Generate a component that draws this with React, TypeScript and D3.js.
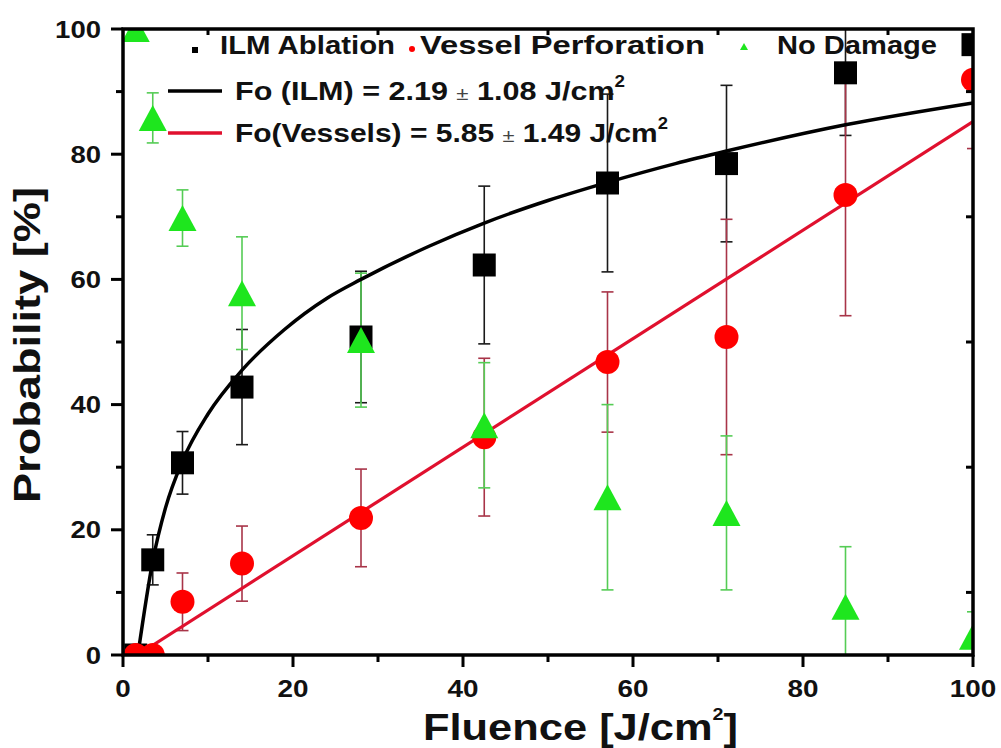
import React, { useEffect, useRef } from 'react'
import * as d3 from 'd3'

// fluence values (J/cm2) shared by all three series
const fluence = [1.5, 3.5, 7, 14, 28, 42.5, 57, 71, 85, 100]

// probabilities [%] and their error bars
const ilmAblation = [0, 15.2, 30.7, 42.8, 50.8, 62.3, 75.4, 78.5, 93, 97.5]
const ilmErr = [0, 4, 5, 9.2, 10.5, 12.6, 14.2, 12.5, 10, 5]
const vesselPerforation = [0, 0, 8.5, 14.6, 21.9, 34.8, 46.8, 50.8, 73.5, 91.9]
const vesselErr = [0, 0, 4.6, 6, 7.8, 12.6, 11.2, 18.8, 19.3, 11]
const noDamage = [100, 85.8, 69.8, 57.8, 50.3, 36.7, 25.2, 22.7, 7.7, 2.9]
const noDamageErr = [0, 4, 4.5, 9, 10.7, 10, 14.8, 12.3, 9.6, 4]

// fitted curves
const ilmFitX = [1.75, 3.5, 5, 7, 10, 14, 19, 24, 28, 36, 42.5, 50, 57, 65, 71, 85, 100]
const ilmFitY = [0, 15, 23.5, 31, 38.5, 45.5, 52, 57, 60, 65.3, 69, 72.6, 75.5, 78.5, 80.5, 84.7, 88.2]
const vesselFitX = [1.7, 100]
const vesselFitY = [0, 85.2]

const majorTicks = [0, 20, 40, 60, 80, 100]
const minorTicks = [10, 30, 50, 70, 90]

const FONT = '"Liberation Sans", Arial, Helvetica, sans-serif'

type Shape = 'square' | 'circle' | 'triangle'

const markerPath = (shape: Shape) => {
  if (shape === 'square') return d3.symbol(d3.symbolSquare, 23 * 23)()
  if (shape === 'circle') return d3.symbol(d3.symbolCircle, Math.PI * 12 * 12)()
  // triangle centred on its bounding box
  const w = 28
  const h = 26
  return `M0,${-h / 2}L${w / 2},${h / 2}L${-w / 2},${h / 2}Z`
}

export default function App() {
  const svgRef = useRef<SVGSVGElement>(null)

  useEffect(() => {
    if (!svgRef.current) return
    const svg = d3.select(svgRef.current)
    svg.selectAll('*').remove()

    const x = d3.scaleLinear().domain([0, 100]).range([123, 973])
    const y = d3.scaleLinear().domain([0, 100]).range([655, 29])

    svg
      .append('defs')
      .append('clipPath')
      .attr('id', 'plot-clip')
      .append('rect')
      .attr('x', x(0))
      .attr('y', y(100))
      .attr('width', x(100) - x(0))
      .attr('height', y(0) - y(100))

    const plot = svg.append('g').attr('clip-path', 'url(#plot-clip)')

    const series = [
      { values: ilmAblation, errors: ilmErr, fill: '#000000', bar: '#1a1a1a', shape: 'square' as Shape },
      { values: vesselPerforation, errors: vesselErr, fill: '#ff0000', bar: '#a83448', shape: 'circle' as Shape },
      { values: noDamage, errors: noDamageErr, fill: '#1ee61e', bar: '#55cc55', shape: 'triangle' as Shape },
    ]

    // error bars
    series.forEach(s => {
      s.values.forEach((v, i) => {
        const e = s.errors[i]
        if (!e) return
        const cx = x(fluence[i])
        const g = plot.append('g').attr('stroke', s.bar).attr('stroke-width', 1.6)
        g.append('line').attr('x1', cx).attr('x2', cx).attr('y1', y(v - e)).attr('y2', y(v + e))
        ;[v - e, v + e].forEach(c => {
          g.append('line')
            .attr('x1', cx - 6)
            .attr('x2', cx + 6)
            .attr('y1', y(c))
            .attr('y2', y(c))
        })
      })
    })

    // fit curves
    const line = d3
      .line<[number, number]>()
      .x(d => x(d[0]))
      .y(d => y(d[1]))
      .curve(d3.curveMonotoneX)

    plot
      .append('path')
      .attr('d', line(ilmFitX.map((f, i) => [f, ilmFitY[i]] as [number, number])) || '')
      .attr('fill', 'none')
      .attr('stroke', '#000')
      .attr('stroke-width', 3.5)

    plot
      .append('path')
      .attr('d', line(vesselFitX.map((f, i) => [f, vesselFitY[i]] as [number, number])) || '')
      .attr('fill', 'none')
      .attr('stroke', '#e0102e')
      .attr('stroke-width', 3.2)

    // markers
    series.forEach(s => {
      plot
        .append('g')
        .selectAll('path')
        .data(s.values)
        .enter()
        .append('path')
        .attr('d', markerPath(s.shape))
        .attr('transform', (v, i) => `translate(${x(fluence[i])},${y(v)})`)
        .attr('fill', s.fill)
    })

    // axes frame
    svg
      .append('rect')
      .attr('x', x(0))
      .attr('y', y(100))
      .attr('width', x(100) - x(0))
      .attr('height', y(0) - y(100))
      .attr('fill', 'none')
      .attr('stroke', '#000')
      .attr('stroke-width', 3.5)

    const ticks = svg.append('g').attr('stroke', '#000').attr('stroke-width', 3)
    majorTicks.forEach(t => {
      ticks.append('line').attr('x1', x(t)).attr('x2', x(t)).attr('y1', y(0)).attr('y2', y(0) + 12)
      ticks.append('line').attr('x1', x(0) - 12).attr('x2', x(0)).attr('y1', y(t)).attr('y2', y(t))
    })
    minorTicks.forEach(t => {
      ticks.append('line').attr('x1', x(t)).attr('x2', x(t)).attr('y1', y(0)).attr('y2', y(0) + 7)
      ticks.append('line').attr('x1', x(0) - 7).attr('x2', x(0)).attr('y1', y(t)).attr('y2', y(t))
      // top and right axes: inward minor ticks only
      ticks.append('line').attr('x1', x(t)).attr('x2', x(t)).attr('y1', y(100)).attr('y2', y(100) + 6)
      ticks.append('line').attr('x1', x(100) - 7).attr('x2', x(100)).attr('y1', y(t)).attr('y2', y(t))
    })

    const addText = (
      parent: d3.Selection<any, unknown, null, undefined>,
      str: string,
      px: number,
      py: number,
      size: number,
      anchor: string,
      length?: number,
    ) => {
      const t = parent
        .append('text')
        .attr('x', px)
        .attr('y', py)
        .attr('text-anchor', anchor)
        .style('font-family', FONT)
        .style('font-weight', 'bold')
        .style('font-size', `${size}px`)
        .attr('fill', '#111')
        .text(str)
      if (length) t.attr('textLength', length).attr('lengthAdjust', 'spacingAndGlyphs')
      return t
    }

    // tick labels
    majorTicks.forEach(t => {
      const s = String(t)
      addText(svg as any, s, x(t), 697, 24, 'middle', s.length * 15.5)
      addText(svg as any, s, 101, y(t) + 8.5, 24, 'end', s.length * 15.3)
    })

    // axis titles
    const xTitle = addText(svg as any, '', 423, 740, 37.5, 'start', 315)
    xTitle.append('tspan').text('Fluence [J/cm')
    xTitle.append('tspan').attr('dy', -20).style('font-size', '17px').text('2')
    xTitle.append('tspan').attr('dy', 20).text(']')

    addText(svg as any, 'Probability [%]', 0, 0, 37.5, 'middle', 316).attr(
      'transform',
      'translate(40,345) rotate(-90)',
    )

    // legend
    const legend = svg.append('g')
    legend
      .append('rect')
      .attr('x', 192)
      .attr('y', 47)
      .attr('width', 6)
      .attr('height', 6)
      .attr('fill', '#000')
    legend.append('circle').attr('cx', 412).attr('cy', 49).attr('r', 3).attr('fill', '#ff0000')
    legend
      .append('path')
      .attr('d', 'M0,-4L4,3L-4,3Z')
      .attr('transform', 'translate(744,47)')
      .attr('fill', '#1ee61e')
    addText(legend as any, 'ILM Ablation', 220, 54, 26, 'start', 175)
    addText(legend as any, 'Vessel Perforation', 420, 54, 26, 'start', 285)
    addText(legend as any, 'No Damage', 777, 54, 26, 'start', 160)

    const fitRows = [
      { color: '#000', y: 91, pre: 'Fo (ILM) = 2.19 ', post: ' 1.08 J/cm', length: 390 },
      { color: '#e0102e', y: 133, pre: 'Fo(Vessels) = 5.85 ', post: ' 1.49 J/cm', length: 433 },
    ]
    fitRows.forEach(r => {
      legend
        .append('line')
        .attr('x1', 168)
        .attr('x2', 222)
        .attr('y1', r.y)
        .attr('y2', r.y)
        .attr('stroke', r.color)
        .attr('stroke-width', 3.5)
      const t = addText(legend as any, '', 235, r.y + 8.5, 26, 'start', r.length)
      t.append('tspan').text(r.pre)
      t.append('tspan').style('font-weight', 'normal').style('font-size', '19px').attr('fill', '#444').text('±')
      t.append('tspan').text(r.post)
      t.append('tspan').attr('dy', -13).style('font-size', '16px').text('2')
    })
  }, [])

  return (
    <svg
      ref={svgRef}
      width={1001}
      height={748}
      style={{ position: 'absolute', left: 0, top: 0, background: '#fff' }}
    />
  )
}
